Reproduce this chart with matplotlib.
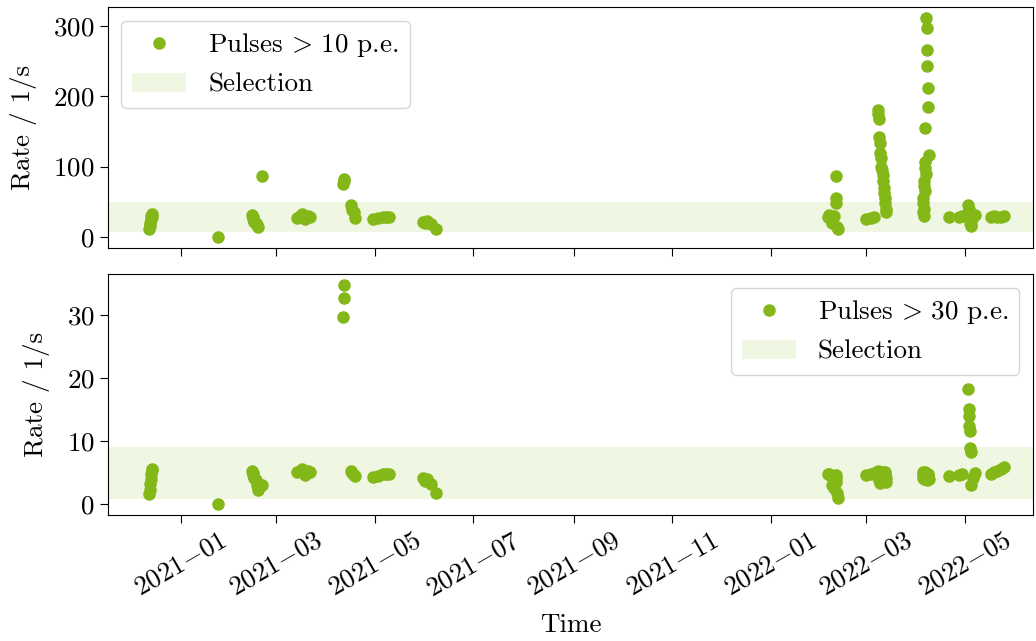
import numpy as np
import pandas as pd
import matplotlib
matplotlib.use("Agg")
import matplotlib.pyplot as plt
import matplotlib.dates as mdates

plt.rcParams['font.family'] = 'serif'
plt.rcParams['font.serif'] = ['cmr10']
plt.rcParams['mathtext.fontset'] = 'cm'
plt.rcParams['axes.formatter.use_mathtext'] = True
plt.rcParams['font.size'] = 19.5

# --- data ---
times = [
    # Dec 2020
    '2020-12-12 06:00', '2020-12-12 18:00', '2020-12-13 00:00', '2020-12-13 08:00',
    '2020-12-13 16:00', '2020-12-14 00:00', '2020-12-14 12:00',
    '2021-01-24',
    # Feb 2021
    '2021-02-14 00:00', '2021-02-14 12:00', '2021-02-15 00:00', '2021-02-15 12:00',
    '2021-02-16 06:00', '2021-02-17 00:00', '2021-02-17 12:00', '2021-02-20',
    # Mar 2021
    '2021-03-14', '2021-03-16', '2021-03-17', '2021-03-18', '2021-03-19',
    '2021-03-21', '2021-03-22',
    # Apr 2021
    '2021-04-11 12:00', '2021-04-11 18:00', '2021-04-12 00:00',
    '2021-04-16', '2021-04-17', '2021-04-18 00:00', '2021-04-18 12:00',
    # May 2021
    '2021-04-30', '2021-05-03', '2021-05-06', '2021-05-08', '2021-05-10',
    '2021-05-31', '2021-06-01', '2021-06-02', '2021-06-05', '2021-06-08',
    # Feb 2022
    '2022-02-05', '2022-02-06', '2022-02-07', '2022-02-08', '2022-02-09',
    '2022-02-10 00:00', '2022-02-10 06:00', '2022-02-10 12:00',
    '2022-02-11 00:00', '2022-02-11 12:00',
    # Mar 2022
    '2022-03-01', '2022-03-04', '2022-03-06',
    '2022-03-08 00:00', '2022-03-08 08:00', '2022-03-08 16:00', '2022-03-09 00:00',
    '2022-03-09 08:00', '2022-03-09 16:00', '2022-03-10 00:00', '2022-03-10 08:00',
    '2022-03-10 16:00', '2022-03-11 00:00', '2022-03-11 08:00', '2022-03-11 16:00',
    '2022-03-12 00:00', '2022-03-12 08:00', '2022-03-12 16:00', '2022-03-13 00:00',
    '2022-03-13 08:00',
    # Apr 2022
    '2022-04-07 00:00', '2022-04-07 06:00', '2022-04-07 12:00', '2022-04-07 18:00',
    '2022-04-08 00:00', '2022-04-08 06:00', '2022-04-06 12:00', '2022-04-08 12:00',
    '2022-04-06 00:00', '2022-04-06 06:00', '2022-04-06 18:00', '2022-04-05 12:00',
    '2022-04-05 18:00', '2022-04-06 00:00', '2022-04-05 06:00', '2022-04-05 00:00',
    '2022-04-05 12:00', '2022-04-05 06:00', '2022-04-05 18:00',
    '2022-04-21',
    # May 2022
    '2022-04-27', '2022-04-29', '2022-05-03 00:00', '2022-05-03 06:00',
    '2022-05-03 12:00', '2022-05-03 18:00', '2022-05-04 00:00', '2022-05-04 06:00',
    '2022-05-04 12:00', '2022-05-04 18:00', '2022-05-06', '2022-05-07',
    '2022-05-17', '2022-05-19', '2022-05-21', '2022-05-23', '2022-05-25',
]

rate_10pe = [
    12, 15, 20, 25, 30, 33, 28,
    0,
    32, 28, 25, 22, 20, 17, 14, 86,
    27, 30, 33, 29, 26, 30, 28,
    75, 79, 82,
    45, 38, 35, 27,
    25, 27, 28, 29, 28,
    22, 20, 23, 19, 12,
    28, 32, 24, 20, 30, 87, 56, 49, 14, 11,
    26, 27, 28,
    181, 175, 168, 142, 133, 120, 112, 100, 95, 88, 80, 70, 62, 55, 48, 40, 35,
    311, 297, 265, 243, 212, 185, 155, 117, 106, 98, 90, 80, 72, 65, 55, 48, 40, 35, 30,
    28,
    28, 30, 45, 40, 35, 30, 25, 20, 18, 15, 28, 31,
    28, 30, 29, 28, 30,
]

rate_30pe = [
    1.6, 2.3, 3.2, 4.0, 4.8, 5.4, 5.6,
    0.0,
    5.2, 4.9, 4.6, 4.2, 3.8, 3.0, 2.3, 3.0,
    5.0, 5.3, 5.6, 5.1, 4.6, 5.2, 5.0,
    29.6, 32.7, 34.7,
    5.3, 4.9, 4.6, 4.4,
    4.3, 4.5, 4.7, 4.8, 4.8,
    4.2, 3.6, 3.9, 3.1, 1.7,
    4.8, 4.7, 4.5, 3.0, 2.6, 4.6, 4.2, 3.5, 1.8, 1.0,
    4.6, 4.7, 4.9,
    5.2, 4.9, 4.5, 3.8, 3.3, 4.6, 5.0, 4.4, 3.6, 4.8, 5.1, 4.3, 3.9, 4.7, 5.0, 4.2, 3.5,
    4.9, 4.5, 4.2, 3.8, 4.8, 4.6, 4.4, 4.0, 4.7, 5.0, 4.3, 4.1, 3.9, 4.6, 4.8, 5.0, 4.5, 4.2, 4.9,
    4.4,
    4.6, 4.8, 18.2, 15.1, 14.0, 12.4, 11.6, 8.9, 8.2, 3.0, 4.2, 4.9,
    4.7, 5.0, 5.2, 5.5, 5.9,
]

sel_10pe = (7, 50)
sel_30pe = (0.8, 9.0)

green = '#83b818'
t = pd.to_datetime(times, format='mixed')

fig, (ax1, ax2) = plt.subplots(2, 1, sharex=True, figsize=(10.36, 6.41), dpi=100)
fig.subplots_adjust(left=0.1042, right=0.997, top=0.989, bottom=0.1966, hspace=0.108)

ax1.plot(t, rate_10pe, 'o', color=green, ms=8, label=r'Pulses$\,>\,$10 p.e.')
ax1.axhspan(*sel_10pe, color=green, alpha=0.12, lw=0, label='Selection')
ax1.set_ylabel('Rate / 1/s', labelpad=12)
ax1.set_yticks([0, 100, 200, 300])
ax1.legend(loc='upper left')

ax2.plot(t, rate_30pe, 'o', color=green, ms=8, label=r'Pulses$\,>\,$30 p.e.')
ax2.axhspan(*sel_30pe, color=green, alpha=0.12, lw=0, label='Selection')
ax2.set_ylabel('Rate / 1/s', labelpad=12)
ax2.set_yticks([0, 10, 20, 30])
ax2.legend(loc='upper right')

ax2.set_xlim(pd.Timestamp('2020-11-17'), pd.Timestamp('2022-06-12'))
ax2.xaxis.set_major_locator(mdates.MonthLocator(bymonth=[1, 3, 5, 7, 9, 11]))
ax2.xaxis.set_major_formatter(mdates.DateFormatter('$%Y{-}%m$'))
plt.setp(ax2.get_xticklabels(), rotation=30)
ax2.set_xlabel('Time', labelpad=9)

for ax in (ax1, ax2):
    ax.tick_params(length=6)

fig.savefig('out.png', dpi=100)
